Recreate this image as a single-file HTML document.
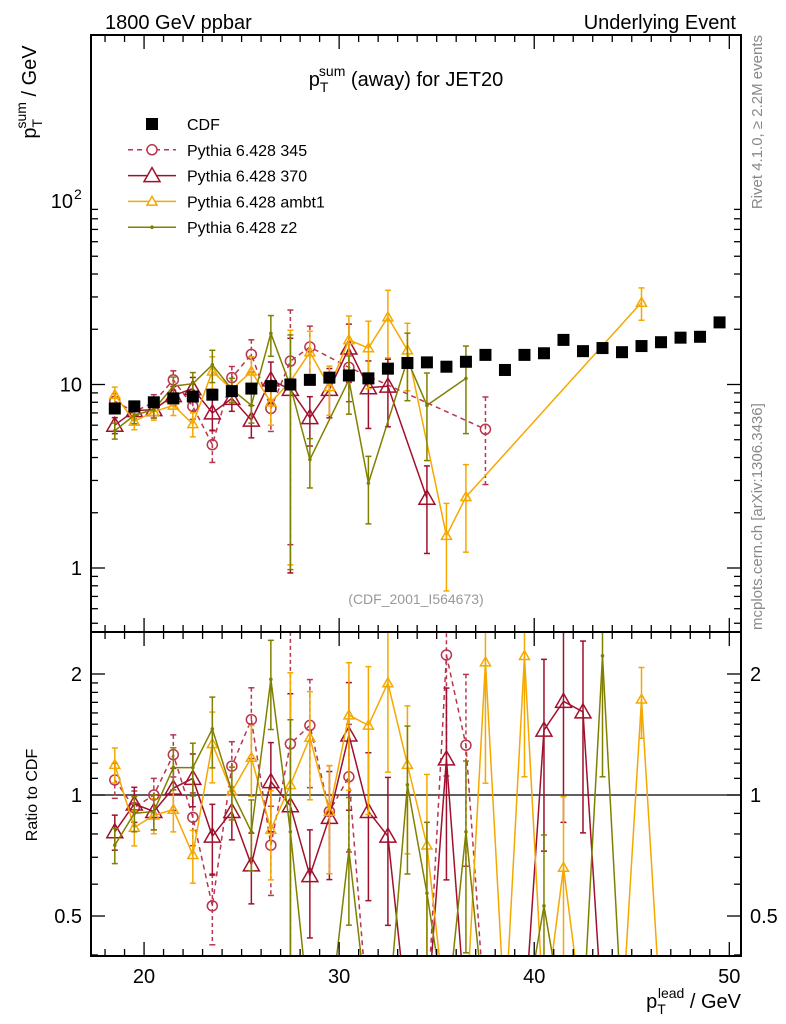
<!DOCTYPE html>
<html><head><meta charset="utf-8"><style>
html,body{margin:0;padding:0;background:#fff;overflow:hidden;width:786px;height:1024px;}
svg{display:block;font-family:"Liberation Sans",sans-serif;}
</style></head><body>
<svg id="chart" width="786" height="1024" viewBox="0 0 786 1024" xmlns="http://www.w3.org/2000/svg" overflow="hidden">
<defs>
<clipPath id="clipMain"><rect x="91" y="35" width="650" height="597"/></clipPath>
<clipPath id="clipRatio"><rect x="91" y="632" width="650" height="324"/></clipPath>
</defs>
<text x="105" y="29" font-size="20">1800 GeV ppbar</text>
<text x="736" y="29" font-size="20" text-anchor="end">Underlying Event</text>
<text x="406" y="86" font-size="20" text-anchor="middle">p<tspan font-size="14" dy="6">T</tspan><tspan font-size="14" dx="-8" dy="-16">sum</tspan><tspan dy="10"> (away) for JET20</tspan></text>
<text transform="translate(36,92) rotate(-90)" font-size="20" text-anchor="middle">p<tspan font-size="14" dy="6">T</tspan><tspan font-size="14" dx="-8" dy="-16">sum</tspan><tspan dy="10"> / GeV</tspan></text>
<text transform="translate(37,795) rotate(-90)" font-size="16" text-anchor="middle">Ratio to CDF</text>
<text x="741" y="1008" font-size="20" text-anchor="end">p<tspan font-size="14" dy="6">T</tspan><tspan font-size="14" dx="-8" dy="-16">lead</tspan><tspan dy="10"> / GeV</tspan></text>
<text transform="translate(762,35) rotate(-90)" font-size="15" fill="#888" text-anchor="end">Rivet 4.1.0, ≥ 2.2M events</text>
<text transform="translate(762,630) rotate(-90)" font-size="15" fill="#888">mcplots.cern.ch [arXiv:1306.3436]</text>
<text x="416" y="604" font-size="14" fill="#999" text-anchor="middle">(CDF_2001_I564673)</text>
<g id="mainMarks" clip-path="url(#clipMain)"></g>
<g id="ratioMarks" clip-path="url(#clipRatio)"></g>
<g id="axes"></g>
<g id="legend"></g>
</svg>
<script>
const xs = [18.5,19.5,20.5,21.5,22.5,23.5,24.5,25.5,26.5,27.5,28.5,29.5,30.5,31.5,32.5,33.5,34.5,35.5,36.5,37.5,38.5,39.5,40.5,41.5,42.5,43.5,44.5,45.5,46.5,47.5,48.5,49.5];
const cdfValues = [7.4,7.6,8.0,8.4,8.6,8.8,9.2,9.5,9.8,10.0,10.6,10.9,11.2,10.8,12.2,13.1,13.2,12.5,13.3,14.5,12.0,14.5,14.8,17.5,15.2,15.8,15.0,16.2,17.0,18.0,18.2,21.8];
const p345Main = [8.1,7.1,8.0,10.6,7.6,4.7,10.9,14.6,7.4,13.4,16,null,12.4,null,null,null,null,null,null,5.7];
const p370Main = [6.0,7.2,7.3,8.7,9.5,7.0,8.4,6.4,10.6,9.4,6.6,9.4,15.8,9.6,9.8,null,2.4];
const ambt1Main = [8.8,6.3,7.1,7.7,6.1,11.8,9.4,11.8,8.0,10.4,15,9.7,17.5,15.8,23.3,15.4,null,1.5,2.44,null,null,null,null,null,null,null,null,28];
const z2Main = [5.6,6.8,7.3,9.8,10.1,12.8,9.4,7.7,19,9.8,3.9,null,10.6,2.9,null,13.6,7.7,null,10.8];
const p345Ratio = [1.09,0.93,1.0,1.26,0.88,0.53,1.18,1.54,0.75,1.34,1.49,0.91,1.11,0,0,0,0,2.23,1.33,0];
const p370Ratio = [0.81,0.95,0.91,1.04,1.1,0.79,0.91,0.67,1.08,0.94,0.63,0.88,1.41,0.91,0.79,0,0,1.23,0,0,0,0,1.45,1.71,1.61,0];
const ambt1Ratio = [1.19,0.83,0.89,0.92,0.71,1.34,1.02,1.24,0.82,1.06,1.39,0.91,1.58,1.49,1.9,1.19,0.75,0,0,2.14,0,2.22,0,0.66,0,0,0,1.73,0];
const z2Ratio = [0.75,0.9,0.91,1.17,1.17,1.46,1.02,0.81,1.94,0.81,0,0,0.73,0,0,1.06,0.57,0,0.81,0,0,0,0.53,0,0,2.22,0];
const relErr = [0.1,0.1,0.1,0.12,0.15,0.2,0.15,0.2,0.25,0.9,0.3,0.3,0.35,0.4,0.4,0.4,0.5,0.5,0.5,0.5,0.5,0.5,0.5,0.5,0.5,0.5,0.5,0.2,0.5];
const xTicks = [20,30,40,50];
const mainTicks = [1,10,100];
const mainTickLabels = ["1","10","10"];
const ratioTicks = [0.5,1,2];
const ratioTickLabels = ["0.5","1","2"];

const L=91,R=741,T=35,M=632,B=956;
const X0=17.28,X1=50.6;
function xPx(v){return L+(v-X0)/(X1-X0)*(R-L);}
function yMain(v){return 568-Math.log10(v)*183.5;}
function yRatio(v){return v<=0?1020:795-Math.log10(v)*402;}
const NS="http://www.w3.org/2000/svg";
function el(tag,attrs,parent){const e=document.createElementNS(NS,tag);for(const k in attrs)e.setAttribute(k,attrs[k]);parent.appendChild(e);return e;}
const mainG=document.getElementById('mainMarks'),ratioG=document.getElementById('ratioMarks'),axG=document.getElementById('axes'),legG=document.getElementById('legend');

function marker(g,type,x,y,color,size){
  let m;
  if(type==='circle'){m=el('circle',{cx:x,cy:y,r:5,fill:'none',stroke:color,'stroke-width':1.5},g);}
  else if(type==='tri'){const s=size;m=el('polygon',{points:`${x},${y-s} ${x-s},${y+s*0.75} ${x+s},${y+s*0.75}`,fill:'none',stroke:color,'stroke-width':1.5},g);}
  else if(type==='dot'){m=el('circle',{cx:x,cy:y,r:1.8,fill:color},g);}
  else {m=el('rect',{x:x-6,y:y-6,width:12,height:12,fill:color},g);}
  return m;
}
const series=[
 {name:'p345',main:p345Main,ratio:p345Ratio,color:'#b8364f',dash:'5,4',mk:'circle',sz:5},
 {name:'p370',main:p370Main,ratio:p370Ratio,color:'#a0102c',dash:'',mk:'tri',sz:8},
 {name:'ambt1',main:ambt1Main,ratio:ambt1Ratio,color:'#f5a800',dash:'',mk:'tri',sz:5},
 {name:'z2',main:z2Main,ratio:z2Ratio,color:'#808000',dash:'',mk:'dot',sz:2}
];
function drawSeries(g,s,vals,yf,isRatio){
  const pts=[];
  vals.forEach((v,i)=>{ if(v===null||v===undefined)return; pts.push([xPx(xs[i]),yf(v),v,i]); });
  const line=el('polyline',{points:pts.map(p=>p[0]+','+p[1]).join(' '),fill:'none',stroke:s.color,'stroke-width':1.5},g);
  if(s.dash)line.setAttribute('stroke-dasharray',s.dash);
  
  
  pts.forEach(p=>{
    if(p[2]<=0)return;
    const e=relErr[p[3]]||0.3;
    const y1=yf(p[2]*(1+e)),y2=yf(Math.max(p[2]*(1-e),0.01));
    const eb=el('line',{x1:p[0],x2:p[0],y1:y1,y2:y2,stroke:s.color,'stroke-width':1.5},g);
    if(s.dash)eb.setAttribute('stroke-dasharray','4,3');
    
    
    el('line',{x1:p[0]-3,x2:p[0]+3,y1:y1,y2:y1,stroke:s.color,'stroke-width':1.5},g);
    el('line',{x1:p[0]-3,x2:p[0]+3,y1:y2,y2:y2,stroke:s.color,'stroke-width':1.5},g);
    const m=marker(g,s.mk,p[0],p[1],s.color,s.sz);
    
    
  });
}
const ref=el('line',{x1:L,x2:R,y1:yRatio(1),y2:yRatio(1),stroke:'#000','stroke-width':1.3},ratioG);


series.forEach(s=>{drawSeries(mainG,s,s.main,yMain,false);drawSeries(ratioG,s,s.ratio,yRatio,true);});
cdfValues.forEach((v,i)=>{
  const m=marker(mainG,'sq',xPx(xs[i]),yMain(v),'#000');
  
  
});
[[T,M],[M,B]].forEach((r,k)=>{
  const f=el('rect',{x:L,y:r[0],width:R-L,height:r[1]-r[0],fill:'none',stroke:'#000','stroke-width':2},axG);
  
  
});
for(let v=18;v<=50;v++){
  const x=xPx(v),major=v%10===0,len=major?14:7;
  [T,M].forEach(y0=>{el('line',{x1:x,x2:x,y1:y0,y2:y0+len,stroke:'#000','stroke-width':1.3},axG);});
  [M,B].forEach(y0=>{el('line',{x1:x,x2:x,y1:y0,y2:y0-len,stroke:'#000','stroke-width':1.3},axG);});
}
xTicks.forEach(v=>{
  const t=el('text',{x:xPx(v),y:983,'font-size':20,'text-anchor':'middle'},axG);t.textContent=v;
  
  
});
for(let d=0;d<=2;d++)for(let k=1;k<=9;k++){
  const v=k*Math.pow(10,d-1);const y=yMain(v);if(y<T||y>M)continue;
  const len=k===1?14:7;
  el('line',{x1:L,x2:L+len,y1:y,y2:y,stroke:'#000','stroke-width':1.3},axG);
  el('line',{x1:R,x2:R-len,y1:y,y2:y,stroke:'#000','stroke-width':1.3},axG);
}
mainTicks.forEach((v,i)=>{
  const isPow=v===100;
  const t=el('text',{x:isPow?73:82,y:yMain(v)+7,'font-size':20,'text-anchor':'end'},axG);t.textContent=mainTickLabels[i];
  
  
  if(isPow){const s=el('text',{x:74,y:yMain(v)-2,'font-size':14},axG);s.textContent='2';
    
    }
});
[0.4,0.5,0.6,0.7,0.8,0.9,1,1.1,1.2,1.3,1.4,1.5,1.6,1.7,1.8,1.9,2].forEach(v=>{
  const y=yRatio(v);const len=ratioTicks.includes(v)?14:7;
  el('line',{x1:L,x2:L+len,y1:y,y2:y,stroke:'#000','stroke-width':1.3},axG);
  el('line',{x1:R,x2:R-len,y1:y,y2:y,stroke:'#000','stroke-width':1.3},axG);
});
ratioTicks.forEach((v,i)=>{
  const t=el('text',{x:82,y:yRatio(v)+7,'font-size':20,'text-anchor':'end'},axG);t.textContent=ratioTickLabels[i];
  
  
  const t2=el('text',{x:750,y:yRatio(v)+7,'font-size':20},axG);t2.textContent=ratioTickLabels[i];
  
  
});
const legNames=['CDF','Pythia 6.428 345','Pythia 6.428 370','Pythia 6.428 ambt1','Pythia 6.428 z2'];
legNames.forEach((n,i)=>{
  const y=124+i*25.8;
  const g=el('g',{},legG);
  
  
  if(i===0){el('rect',{x:146,y:y-6,width:12,height:12,fill:'#000'},g);}
  else{const s=series[i-1];
    const ln=el('line',{x1:128,x2:176,y1:y,y2:y,stroke:s.color,'stroke-width':1.5},g);
    if(s.dash)ln.setAttribute('stroke-dasharray','5,4');
    if(s.mk==='circle')el('circle',{cx:152,cy:y,r:5,fill:'#fff',stroke:s.color,'stroke-width':1.5},g);
    else if(s.mk==='tri'){const z=s.sz;el('polygon',{points:`152,${y-z} ${152-z},${y+z*0.75} ${152+z},${y+z*0.75}`,fill:'#fff',stroke:s.color,'stroke-width':1.5},g);}
    else el('circle',{cx:152,cy:y,r:1.8,fill:s.color},g);
  }
  const t=el('text',{x:187,y:y+6,'font-size':16},g);t.textContent=n;
});
</script>
</body></html>
